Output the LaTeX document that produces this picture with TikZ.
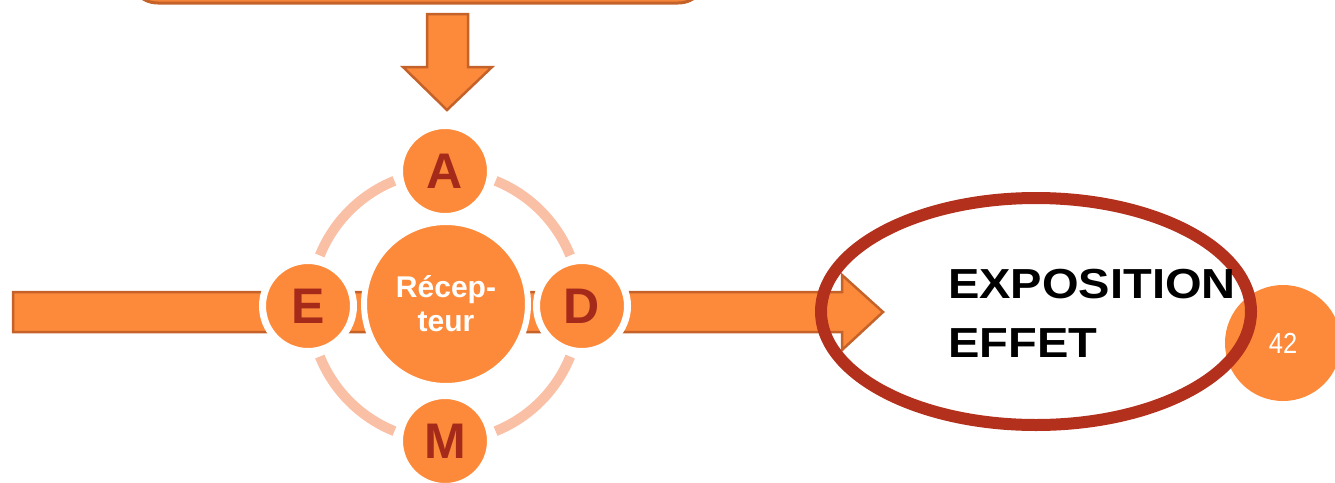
\documentclass[tikz,border=0pt]{standalone}
\usepackage{fontspec}
\setmainfont{Liberation Sans}
\newfontfamily\widesans[FakeStretch=1.12]{Liberation Sans}
\newfontfamily\narrowsans[FakeStretch=0.88]{Liberation Sans}

\definecolor{arrowOrange}{HTML}{FD8A3A}
\definecolor{arrowEdge}{HTML}{C4622A}
\definecolor{ringPink}{HTML}{F9C0A6}
\definecolor{letterRed}{HTML}{A52A1A}
\definecolor{ovalRed}{HTML}{B3301C}

\tikzset{
  blockarrow/.style={fill=arrowOrange, draw=arrowEdge, line width=2.5pt, line join=miter},
  bubble/.style={circle, fill=arrowOrange, draw=white, line width=7pt, inner sep=0pt,
    minimum size=91pt, text=letterRed, font=\fontsize{50}{50}\selectfont\bfseries},
  hub/.style={circle, fill=arrowOrange, draw=white, line width=6pt, inner sep=0pt,
    minimum size=164pt, text=white, align=center,
    font=\fontsize{30}{34}\selectfont\bfseries},
  ringarc/.style={draw=ringPink, line width=10pt},
  bigword/.style={anchor=base west, inner sep=0pt, text=black,
    font=\widesans\fontsize{42}{42}\selectfont\bfseries},
  pagebubble/.style={circle, fill=arrowOrange, inner sep=0pt, minimum size=116pt,
    text=white, font=\narrowsans\fontsize{29}{29}\selectfont}
}

\begin{document}
\begin{tikzpicture}[x=1pt, y=-1pt]
  \useasboundingbox (0,0) rectangle (1335,482);
  \clip (0,0) rectangle (1335,482);

  % box above, only its lower edge shows
  \draw[fill=arrowOrange!85!arrowEdge, draw=arrowEdge, line width=3pt, rounded corners=30pt]
    (128,-90) rectangle (708,3);

  % downward block arrow
  \draw[blockarrow] (427,14) -- (468,14) -- (468,67) -- (492,67) -- (447,110)
    -- (403,67) -- (427,67) -- cycle;

  % long horizontal block arrow towards the oval
  \draw[blockarrow] (13,292) -- (842,292) -- (842,275) -- (883,312) -- (842,350)
    -- (842,332) -- (13,332) -- cycle;

  % ring joining the four letters
  \coordinate (ringc) at (445,306);
  \foreach \a in {0,90,180,270}
    \draw[ringarc] ([shift={(\a+22:135)}]ringc) arc[start angle=\a+22, end angle=\a+68, radius=135];

  % hub and letters
  \node[hub] (recepteur) at (446,304) {Récep-\\teur};
  \node[bubble] (a) at (445,171) {A};
  \node[bubble] (m) at (445,441) {M};
  \node[bubble] (e) at (308,306) {E};
  \node[bubble] (d) at (582,306) {D};

  % page number bubble
  \node[pagebubble] (page) at (1283,343) {42};

  % oval around the outcome
  \draw[draw=ovalRed, line width=12pt] (1036,311.5) ellipse [x radius=215, y radius=113.5];

  % outcome words
  \node[bigword] (expo) at (948,298) {EXPOSITION};
  \node[bigword] (effet) at (948,357) {EFFET};
\end{tikzpicture}
\end{document}
